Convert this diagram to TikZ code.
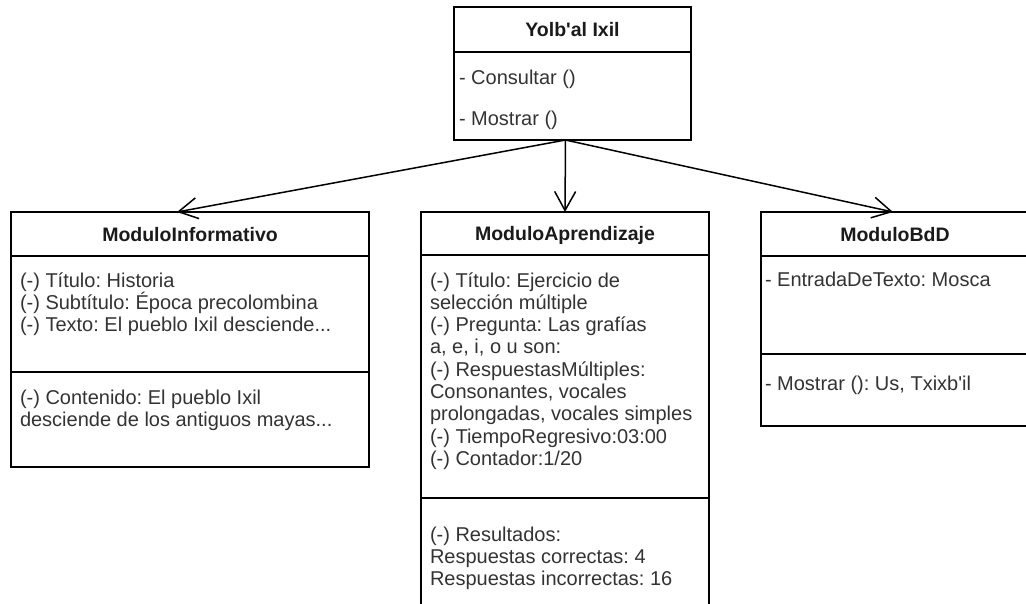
\documentclass[tikz,border=0pt]{standalone}
\usepackage{fontspec}
\setmainfont{Liberation Sans}
\usetikzlibrary{arrows.meta,calc}
\frenchspacing

\definecolor{linecol}{HTML}{000000}
\definecolor{hdrtext}{HTML}{1A1A1A}
\definecolor{bodytext}{HTML}{333333}

\tikzset{
  umlbox/.style={draw=linecol, line width=1.5pt, rectangle, inner sep=0pt,
    outer sep=0pt, anchor=north west},
  umlhead/.style={umlbox, text=hdrtext,
    font=\fontsize{19.5}{22}\selectfont\bfseries, text height=14pt, text depth=0pt},
  bodytxt/.style={inner sep=0pt, outer sep=0pt, anchor=north west, align=left,
    text=bodytext, font=\fontsize{20}{22.3}\selectfont},
  linetxt/.style={inner sep=0pt, outer sep=0pt, anchor=base west,
    text=bodytext, font=\fontsize{20}{22.3}\selectfont},
  assoc/.style={draw=linecol, line width=1.5pt,
    -{Straight Barb[length=19pt,width=21pt,line width=1.5pt]}}
}
% first-line strut so that a node's top sits a fixed distance above its baseline
\newcommand{\firstline}{\rule{0pt}{16pt}}
% straight apostrophe
\newcommand{\ap}{\textquotesingle}

\begin{document}
\begin{tikzpicture}[x=1pt,y=-1pt]
\path[use as bounding box, fill=white] (0,0) rectangle (1026,603);

% --- Yolb'al Ixil ---
\node[umlhead, minimum width=237pt, minimum height=45pt] (yh) at (454,7) {Yolb\ap al Ixil};
\node[umlbox, minimum width=237pt, minimum height=88pt] (ym) at (454,52) {};
\node[linetxt] (yt1) at ($(ym.north west)+(5,32)$) {- Consultar ()};
\node[linetxt] (yt2) at ($(ym.north west)+(5,73)$) {- Mostrar ()};

% --- ModuloInformativo ---
\node[umlhead, minimum width=358pt, minimum height=44pt] (ih) at (11,212) {ModuloInformativo};
\node[umlbox, minimum width=358pt, minimum height=116pt] (ia) at (11,256) {};
\node[umlbox, minimum width=358pt, minimum height=95pt] (im) at (11,372) {};
\node[bodytxt] (iat) at ($(ia.north west)+(9,15)$)
  {\firstline(-) Título: Historia\\(-) Subtítulo: Época precolombina\\(-) Texto: El pueblo Ixil desciende...};
\node[bodytxt] (imt) at ($(im.north west)+(9,16)$)
  {\firstline(-) Contenido: El pueblo Ixil\\desciende de los antiguos mayas...};

% --- ModuloAprendizaje ---
\node[umlhead, minimum width=288pt, minimum height=43pt] (ah) at (421,212) {ModuloAprendizaje};
\node[umlbox, minimum width=288pt, minimum height=243pt] (aa) at (421,255) {};
\node[umlbox, minimum width=288pt, minimum height=122pt] (am) at (421,498) {};
\node[bodytxt] (aat) at ($(aa.north west)+(9,16)$)
  {\firstline(-) Título: Ejercicio de\\selección múltiple\\(-) Pregunta: Las grafías\\a, e, i, o u son:\\(-) RespuestasMúltiples:\\Consonantes, vocales\\prolongadas, vocales simples\\(-) TiempoRegresivo:03:00\\(-) Contador:1/20};
\node[bodytxt] (amt) at ($(am.north west)+(9,27)$)
  {\firstline(-) Resultados:\\Respuestas correctas: 4\\Respuestas incorrectas: 16};

% --- ModuloBdD ---
\node[umlhead, minimum width=268pt, minimum height=44pt] (bh) at (761,212) {ModuloBdD};
\node[umlbox, minimum width=268pt, minimum height=98pt] (ba) at (761,256) {};
\node[umlbox, minimum width=268pt, minimum height=72pt] (bm) at (761,354) {};
\node[linetxt] (bat) at ($(ba.north west)+(4,30)$) {- EntradaDeTexto: Mosca};
\node[linetxt] (bmt) at ($(bm.north west)+(4,36)$) {- Mostrar (): Us, Txixb\ap il};

% --- associations ---
\draw[assoc] ([xshift=-7pt]ym.south) -- ([xshift=-13pt]ih.north);
\draw[assoc] ([xshift=-7pt]ym.south) -- (ah.north);
\draw[assoc] ([xshift=-7pt]ym.south) -- ([xshift=-2pt]bh.north);
\end{tikzpicture}
\end{document}
